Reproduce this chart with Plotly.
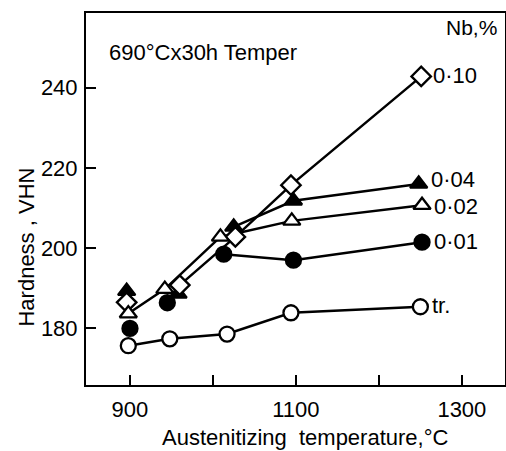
import plotly.graph_objects as go

# Data
x_tr = [898, 948, 1017, 1094, 1250]
y_tr = [175.7, 177.4, 178.6, 183.9, 185.4]
x_001 = [900, 945, 1013, 1097, 1252]
y_001 = [180.0, 186.4, 198.5, 197.0, 201.5]
x_002 = [898, 942, 1009, 1095, 1252]
y_002 = [183.7, 189.8, 202.8, 206.8, 210.7]
x_004 = [896, 958, 1025, 1097, 1248]
y_004 = [189.3, 188.6, 205.3, 211.8, 216.0]
x_010 = [896, 960, 1027, 1094, 1251]
y_010 = [186.5, 190.8, 202.8, 215.7, 242.8]

# (label, x, y, symbol, fill, index where the drawn line starts, label y-shift px)
series = [
    ("0·04", x_004, y_004, "triangle-up", "black", 2, 4),
    ("0·10", x_010, y_010, "diamond", "white", 1, 1),
    ("0·02", x_002, y_002, "triangle-up", "white", 0, -1),
    ("0·01", x_001, y_001, "circle", "black", 2, 1),
    ("tr.", x_tr, y_tr, "circle", "white", 0, 1),
]

xticks = [900, 1000, 1100, 1200, 1300]
xticklabels = ["900", "", "1100", "", "1300"]
yticks = [180, 200, 220, 240]

FONT = "Liberation Sans"
FS = 22

fig = go.Figure()
# lines first
for name, xs, ys, sym, fill, start, dy in series:
    fig.add_trace(go.Scatter(
        x=xs[start:], y=ys[start:], mode="lines",
        line=dict(color="black", width=2.5), showlegend=False, hoverinfo="skip",
    ))
for name, xs, ys, sym, fill, start, dy in series:
    fig.add_trace(go.Scatter(
        x=xs, y=ys, mode="markers", name=name,
        marker=dict(symbol=sym, size=15, color=fill,
                    line=dict(color="black", width=2.3)),
        showlegend=False,
    ))
    fig.add_annotation(x=xs[-1], y=ys[-1], text=name, showarrow=False,
                       xanchor="left", xshift=10, yshift=dy,
                       font=dict(family=FONT, size=FS, color="black"))

fig.add_annotation(xref="paper", yref="paper", x=0.05, y=0.895, text="690°Cx30h Temper",
                   showarrow=False, xanchor="left", yanchor="middle",
                   font=dict(family=FONT, size=FS, color="black"))
fig.add_annotation(xref="paper", yref="paper", x=0.985, y=0.96, text="Nb,%",
                   showarrow=False, xanchor="right", yanchor="middle",
                   font=dict(family=FONT, size=FS - 1, color="black"))
# axis titles
fig.add_annotation(xref="paper", yref="paper", x=0.523, y=-0.14,
                   text="Austenitizing&nbsp;&nbsp;temperature,°C", showarrow=False,
                   xanchor="center", yanchor="middle",
                   font=dict(family=FONT, size=FS, color="black"))
fig.add_annotation(xref="paper", yref="paper", x=-0.141, y=0.372,
                   text="Hardness , VHN", showarrow=False, textangle=-90,
                   xanchor="center", yanchor="middle",
                   font=dict(family=FONT, size=FS, color="black"))

fig.update_layout(
    width=506, height=451,
    margin=dict(l=86, r=1, t=13, b=66, autoexpand=False),
    plot_bgcolor="white", paper_bgcolor="white",
    font=dict(family=FONT, size=FS, color="black"),
)
fig.update_xaxes(
    range=[847, 1352], tickvals=xticks, ticktext=xticklabels,
    ticks="inside", ticklen=10, tickwidth=2, tickcolor="black",
    showline=True, linecolor="black", linewidth=2, mirror=True,
    showgrid=False, zeroline=False, ticklabelstandoff=4, automargin=False,
    tickfont=dict(family=FONT, size=FS),
)
fig.update_yaxes(
    range=[165.9, 258.6], tickvals=yticks,
    ticks="inside", ticklen=10, tickwidth=2, tickcolor="black",
    showline=True, linecolor="black", linewidth=2, mirror=True,
    showgrid=False, zeroline=False, ticklabelstandoff=2, automargin=False,
    tickfont=dict(family=FONT, size=FS),
)

fig.write_html(
    "out.html",
    config={"displayModeBar": False},
    post_script="document.body.style.margin='0';document.body.style.overflow='hidden';",
)
